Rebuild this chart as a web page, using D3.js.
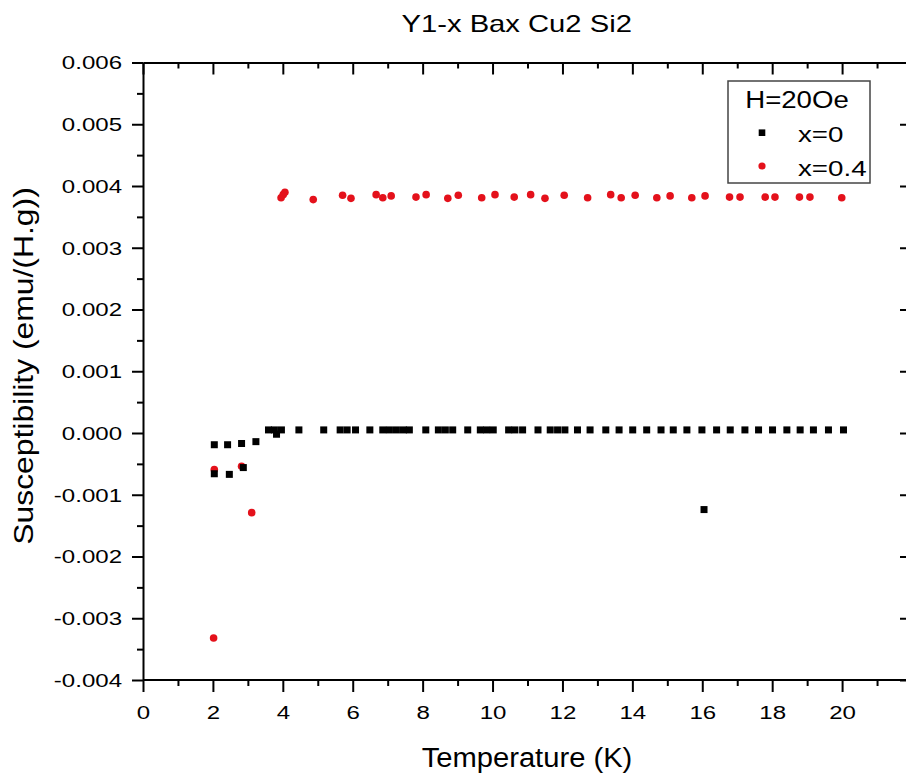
<!DOCTYPE html>
<html>
<head>
<meta charset="utf-8">
<script src="https://cdn.jsdelivr.net/npm/d3@7"></script>
<style>
  body { margin: 0; background: #fff; }
  text { font-family: "Liberation Sans", Arial, sans-serif; fill: #000; }
</style>
</head>
<body>
<div id="vis"></div>
<script>
var width = 906;
var height = 776;

// x = 0 sample (black squares)
var tempX0 = [2.04, 2.04, 2.42, 2.47, 2.82, 2.87, 3.23, 3.82,
  3.59, 3.76, 3.96, 4.46, 5.17, 5.64, 5.84, 6.08, 6.49, 6.86, 7.05, 7.25, 7.45, 7.62,
  8.09, 8.45, 8.65, 8.86, 9.29, 9.65, 9.83, 10.02, 10.46, 10.64, 10.86, 11.3, 11.65,
  11.86, 12.07, 12.43, 12.79, 13.24, 13.62, 14.01, 14.41, 14.82, 15.17, 15.56, 15.99,
  16.41, 16.8, 17.22, 17.61, 18.01, 18.42, 18.8, 19.18, 19.61, 20.04, 16.05];
var chiX0 = [-0.00019, -0.00066, -0.00019, -0.00067, -0.00017, -0.00056, -0.00014, -0.00002,
  0.00005, 0.00005, 0.00005, 0.00005, 0.00005, 0.00005, 0.00005, 0.00005, 0.00005, 0.00005,
  0.00005, 0.00005, 0.00005, 0.00005, 0.00005, 0.00005, 0.00005, 0.00005, 0.00005, 0.00005,
  0.00005, 0.00005, 0.00005, 0.00005, 0.00005, 0.00005, 0.00005, 0.00005, 0.00005, 0.00005,
  0.00005, 0.00005, 0.00005, 0.00005, 0.00005, 0.00005, 0.00005, 0.00005, 0.00005, 0.00005,
  0.00005, 0.00005, 0.00005, 0.00005, 0.00005, 0.00005, 0.00005, 0.00005, 0.00005, -0.00124];

// x = 0.4 sample (red circles)
var tempX04 = [2.02, 2.04, 2.82, 3.11,
  3.95, 4.01, 4.06, 4.87, 5.71, 5.95, 6.67, 6.86, 7.1, 7.81, 8.1, 8.72, 9.02, 9.69,
  10.07, 10.62, 11.09, 11.5, 12.05, 12.72, 13.38, 13.68, 14.08, 14.7, 15.08, 15.7,
  16.08, 16.78, 17.08, 17.8, 18.08, 18.78, 19.08, 19.99];
var chiX04 = [-0.00332, -0.00059, -0.00054, -0.00129,
  0.00381, 0.00386, 0.0039, 0.00378, 0.00385, 0.0038, 0.00386, 0.00381, 0.00384, 0.00382,
  0.00386, 0.0038, 0.00385, 0.00381, 0.00386, 0.00382, 0.00386, 0.0038, 0.00385, 0.00381,
  0.00386, 0.00381, 0.00385, 0.00381, 0.00384, 0.00381, 0.00384, 0.00382, 0.00382, 0.00382,
  0.00382, 0.00382, 0.00382, 0.00381];

var xTicks = [0, 2, 4, 6, 8, 10, 12, 14, 16, 18, 20, 22];
var xMinor = [1, 3, 5, 7, 9, 11, 13, 15, 17, 19, 21];
var yTicks = [-0.004, -0.003, -0.002, -0.001, 0, 0.001, 0.002, 0.003, 0.004, 0.005, 0.006];
var yMinor = [-0.0035, -0.0025, -0.0015, -0.0005, 0.0005, 0.0015, 0.0025, 0.0035, 0.0045, 0.0055];

var title = "Y1-x Bax Cu2 Si2";
var xTitle = "Temperature (K)";
var yTitle = "Susceptibility (emu/(H.g))";
var legendTitle = "H=20Oe";
var seriesNames = ["x=0", "x=0.4"];
var red = "#e4111b";

var x = d3.scaleLinear().domain([0, 22]).range([143, 912]);
var y = d3.scaleLinear().domain([-0.004, 0.006]).range([680, 62.5]);

var svg = d3.select("#vis")
  .append("svg")
  .attr("width", width)
  .attr("height", height);

// text stretched sideways, the source renders its glyphs wide
function label(g, txt, px, py, size, sx, anchor, rot) {
  var t = "translate(" + px + "," + py + ")" + (rot ? " rotate(" + rot + ")" : "") + " scale(" + sx + ",1)";
  return g.append("text")
    .attr("transform", t)
    .attr("text-anchor", anchor)
    .style("font-size", size + "px")
    .text(txt);
}

function styleAxis(g) {
  g.selectAll("path, line").attr("stroke", "#000").attr("stroke-width", 2);
}

function styleTicks(g) {
  g.selectAll(".tick text")
    .attr("transform", "scale(1.3,1)")
    .attr("font-size", null)
    .attr("font-family", null)
    .style("font-size", "18.5px")
    .attr("fill", "#000");
}

// left axis
var leftAx = svg.append("g").attr("transform", "translate(143,0)");
leftAx.call(d3.axisLeft(y).tickValues(yTicks).tickSize(11).tickSizeOuter(0)
  .tickFormat(d => d.toFixed(3)));
leftAx.attr("font-size", null).attr("font-family", null);
leftAx.append("g").call(d3.axisLeft(y).tickValues(yMinor).tickSize(6).tickSizeOuter(0).tickFormat(""))
  .select(".domain").remove();
leftAx.selectAll(".tick text")
  .attr("x", -21 / 1.3)
  .attr("dy", "0.35em");
styleTicks(leftAx);
styleAxis(leftAx);

// bottom axis
var bottomAx = svg.append("g").attr("transform", "translate(0,680)");
bottomAx.call(d3.axisBottom(x).tickValues(xTicks.filter(d => d <= 20)).tickSize(12).tickSizeOuter(0));
bottomAx.attr("font-size", null).attr("font-family", null);
bottomAx.append("g").call(d3.axisBottom(x).tickValues(xMinor).tickSize(6).tickSizeOuter(0).tickFormat(""))
  .select(".domain").remove();
bottomAx.selectAll(".tick text")
  .attr("y", 26)
  .attr("dy", "0.71em");
styleTicks(bottomAx);
bottomAx.select(".domain").attr("d", "M143,0H912");
styleAxis(bottomAx);

// top axis, ticks point inward
var topAx = svg.append("g").attr("transform", "translate(0,62.5)");
topAx.call(d3.axisBottom(x).tickValues(xTicks).tickSize(12).tickSizeOuter(0).tickFormat(""));
topAx.append("g").call(d3.axisBottom(x).tickValues(xMinor).tickSize(6).tickSizeOuter(0).tickFormat(""))
  .select(".domain").remove();
styleAxis(topAx);

// right axis, ticks point inward
var rightAx = svg.append("g").attr("transform", "translate(912,0)");
rightAx.call(d3.axisLeft(y).tickValues(yTicks).tickSize(12).tickSizeOuter(0).tickFormat(""));
rightAx.append("g").call(d3.axisLeft(y).tickValues(yMinor).tickSize(6).tickSizeOuter(0).tickFormat(""))
  .select(".domain").remove();
styleAxis(rightAx);

// data: red first, black squares sit on top
svg.append("g")
  .selectAll("circle")
  .data(tempX04.map((t, i) => [t, chiX04[i]]))
  .enter()
  .append("circle")
  .attr("cx", d => x(d[0]))
  .attr("cy", d => y(d[1]))
  .attr("r", 3.8)
  .attr("fill", red);

svg.append("g")
  .selectAll("rect")
  .data(tempX0.map((t, i) => [t, chiX0[i]]))
  .enter()
  .append("rect")
  .attr("x", d => x(d[0]) - 3.5)
  .attr("y", d => y(d[1]) - 3.5)
  .attr("width", 7)
  .attr("height", 7)
  .attr("fill", "#000");

// legend
var leg = svg.append("g");
leg.append("rect")
  .attr("x", 728).attr("y", 81)
  .attr("width", 142).attr("height", 102)
  .attr("fill", "#fff")
  .attr("stroke", "#444")
  .attr("stroke-width", 1.5);
label(leg, legendTitle, 797, 108.3, 24, 1.15, "middle");
leg.append("rect")
  .attr("x", 762 - 3.3).attr("y", 132.7 - 3.3)
  .attr("width", 6.6).attr("height", 6.6)
  .attr("fill", "#000");
leg.append("circle")
  .attr("cx", 762).attr("cy", 166)
  .attr("r", 3.6)
  .attr("fill", red);
label(leg, seriesNames[0], 798, 141.7, 22, 1.26, "start");
label(leg, seriesNames[1], 798, 176, 22, 1.26, "start");

// titles
label(svg, title, 516.7, 31.7, 23, 1.27, "middle");
label(svg, xTitle, 527, 767.3, 27, 1.08, "middle");
label(svg, yTitle, 33, 366, 27, 1.18, "middle", -90);
</script>
</body>
</html>
